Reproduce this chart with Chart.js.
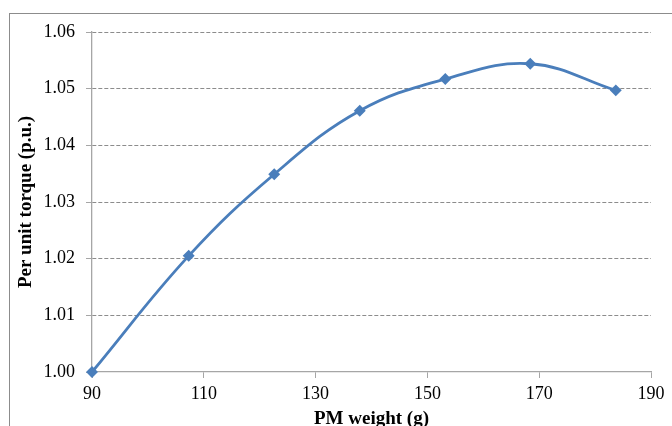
<!DOCTYPE html>
<html>
<head>
<meta charset="utf-8">
<script src="https://cdn.jsdelivr.net/npm/chart.js@4/dist/chart.umd.min.js"></script>
<style>
  html, body { margin: 0; padding: 0; background: #fff; }
  body { width: 672px; height: 426px; position: relative; overflow: hidden; }
  #frame { position: absolute; left: 9px; top: 13px; width: 800px; height: 600px; border: 1px solid #8c8c8c; box-sizing: border-box; }
  #wrap { position: absolute; left: 0; top: 0; width: 672px; height: 426px; }
</style>
</head>
<body>
<div id="frame"></div>
<div id="wrap"><canvas id="c" width="672" height="426"></canvas></div>
<script>
const pmWeight = [90, 107.3, 122.6, 137.9, 153.2, 168.4, 183.7];
const torquePU = [1.000, 1.0205, 1.0349, 1.0461, 1.0517, 1.0544, 1.0497];
const xTicks = [90, 110, 130, 150, 170, 190];
const yTicks = [1.00, 1.01, 1.02, 1.03, 1.04, 1.05, 1.06];
const xTitle = 'PM weight (g)';
const yTitle = 'Per unit torque (p.u.)';

const points = pmWeight.map((x, i) => ({ x: x, y: torquePU[i] }));
const serif = "'Liberation Serif', 'Times New Roman', serif";

new Chart(document.getElementById('c'), {
  type: 'line',
  data: {
    datasets: [{
      data: points,
      borderColor: '#4a7ebb',
      backgroundColor: '#4a7ebb',
      borderWidth: 2.8,
      tension: 0.4,
      pointStyle: 'rectRot',
      pointRadius: 4,
      pointHoverRadius: 4,
      clip: false,
      fill: false
    }]
  },
  options: {
    responsive: false,
    animation: false,
    events: [],
    layout: { padding: { left: 0, right: 21, top: 32, bottom: 0 } },
    plugins: { legend: { display: false }, tooltip: { enabled: false } },
    scales: {
      x: {
        type: 'linear',
        min: xTicks[0],
        max: xTicks[xTicks.length - 1],
        afterBuildTicks: (s) => { s.ticks = xTicks.map(v => ({ value: v })); },
        afterFit: (s) => { s.height = 54; },
        ticks: {
          color: '#000',
          font: { family: serif, size: 18 },
          padding: 5,
          maxRotation: 0,
          callback: (v) => String(v)
        },
        grid: { drawOnChartArea: false, drawTicks: true, tickLength: 6, color: '#a6a6a6', tickColor: '#a6a6a6' },
        border: { display: true, color: '#a6a6a6', width: 1.3 },
        title: {
          display: true,
          text: xTitle,
          color: '#000',
          font: { family: serif, size: 19, weight: 'bold', lineHeight: 1 },
          padding: { top: 0, bottom: -3 }
        }
      },
      y: {
        type: 'linear',
        min: yTicks[0],
        max: yTicks[yTicks.length - 1],
        afterBuildTicks: (s) => { s.ticks = yTicks.map(v => ({ value: v })); },
        afterFit: (s) => { s.width = 92; },
        ticks: {
          color: '#000',
          font: { family: serif, size: 18 },
          padding: 11,
          callback: (v) => Number(v).toFixed(2)
        },
        grid: {
          drawOnChartArea: true,
          drawTicks: true,
          tickLength: 6,
          color: (ctx) => ctx.index === 0 ? 'rgba(0,0,0,0)' : '#8c8c8c',
          tickColor: '#a6a6a6',
          lineWidth: 1
        },
        border: { display: true, color: '#a6a6a6', width: 1.3, dash: [4, 2] },
        title: {
          display: true,
          text: yTitle,
          color: '#000',
          font: { family: serif, size: 19, weight: 'bold', lineHeight: 1.2 },
          padding: { top: 15, bottom: 0 }
        }
      }
    }
  }
});
</script>
</body>
</html>
